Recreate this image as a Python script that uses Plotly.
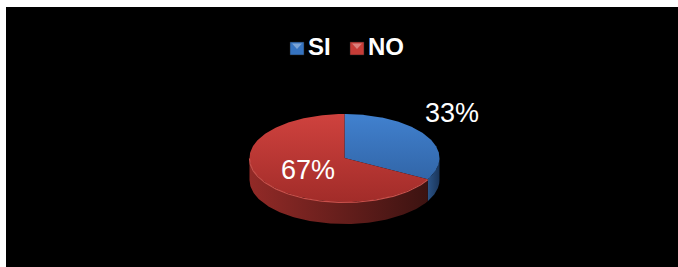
import numpy as np
import plotly.graph_objects as go

# ---- data ----
categories = ["SI", "NO"]
values = [33, 67]
top_colors = [["#2c5c9a", "#4181cf"], ["#a22c29", "#cf423e"]]   # [bottom, top] of top face
side_colors = [["#2b5487", "#1a355a"], ["#922a27", "#3c1311"]]  # [left, right] of side
legend_colors = ["#3573c0", "#c63c37"]

# ---- geometry (pixel space) ----
W, H = 678, 267
cx, cy, rx, ry, depth = 344.5, 158.0, 95.0, 44.0, 22.0

def ell(theta_deg, dy=0.0):
    t = np.radians(theta_deg)
    return cx + rx * np.cos(t), cy - ry * np.sin(t) + dy

total = float(sum(values))
fig = go.Figure()

# slice angle spans (clockwise from 12 o'clock)
spans = []
start = 90.0
for v in values:
    end = start - 360.0 * v / total
    spans.append((start, end))
    start = end

# side walls (front half only: angles between 0 and -180)
for i, (a, b) in enumerate(spans):
    lo, hi = max(b, -180.0), min(a, 0.0)
    if hi <= lo:
        continue
    th = np.linspace(hi, lo, 120)
    xt, yt = ell(th)
    xb, yb = ell(th[::-1], depth)
    xs = np.concatenate([xt, xb, xt[:1]])
    ys = np.concatenate([yt, yb, yt[:1]])
    fig.add_trace(go.Scatter(
        x=xs, y=ys, mode="lines", fill="toself", line=dict(width=0),
        fillgradient=dict(type="horizontal",
                          colorscale=[[0, side_colors[i][0]], [1, side_colors[i][1]]]),
        hoverinfo="skip", showlegend=False))

# top faces
for i, (a, b) in enumerate(spans):
    th = np.linspace(a, b, 200)
    xa, ya = ell(th)
    xs = np.concatenate([[cx], xa, [cx]])
    ys = np.concatenate([[cy], ya, [cy]])
    fig.add_trace(go.Scatter(
        x=xs, y=ys, mode="lines", fill="toself", line=dict(width=0),
        fillgradient=dict(type="vertical", start=cy + ry, stop=cy - ry,
                          colorscale=[[0, top_colors[i][0]], [1, top_colors[i][1]]]),
        name=categories[i], hoverinfo="skip", showlegend=False))

# rim highlight
th = np.linspace(-180, spans[0][1], 150)
xr, yr = ell(th)
fig.add_trace(go.Scatter(x=xr, y=yr + 0.5, mode="lines",
                         line=dict(color="#c8504b", width=1.2),
                         hoverinfo="skip", showlegend=False))

# labels
pct = [f"{round(100 * v / total)}%" for v in values]
label_pos = [(451.5, 112.5), (308.0, 169.5)]
for (lx, ly), t in zip(label_pos, pct):
    fig.add_annotation(x=lx, y=ly, text=t, showarrow=False,
                       font=dict(family="Liberation Sans, Arial", size=27, color="white"),
                       xanchor="center", yanchor="middle")

# legend (drawn)
leg_x = [290, 350]
for i, name in enumerate(categories):
    x0 = leg_x[i]
    fig.add_shape(type="rect", x0=x0, x1=x0 + 14, y0=42, y1=55,
                  fillcolor=legend_colors[i], line=dict(color="#202020", width=0.5))
    fig.add_shape(type="path",
                  path=f"M {x0+2},{43.5} L {x0+12},{43.5} L {x0+7},{49} Z",
                  fillcolor="rgba(255,255,255,0.35)", line=dict(width=0))
    fig.add_annotation(x=x0 + 16, y=46.5, text=f"<b>{name}</b>", showarrow=False,
                       font=dict(family="Liberation Sans, Arial", size=24, color="white"),
                       xanchor="left", yanchor="middle")

# black panel inside a thin white frame
fig.add_shape(type="rect", x0=6, x1=W, y0=7, y1=H, fillcolor="black",
              line=dict(width=0), layer="below")

fig.update_layout(
    width=W, height=H, margin=dict(l=0, r=0, t=0, b=0),
    paper_bgcolor="white", plot_bgcolor="white",
    xaxis=dict(range=[0, W], visible=False, fixedrange=True),
    yaxis=dict(range=[H, 0], visible=False, fixedrange=True),
    showlegend=False,
)

fig.write_html("out.html", config={"displayModeBar": False},
               post_script="document.body.style.margin='0';")
